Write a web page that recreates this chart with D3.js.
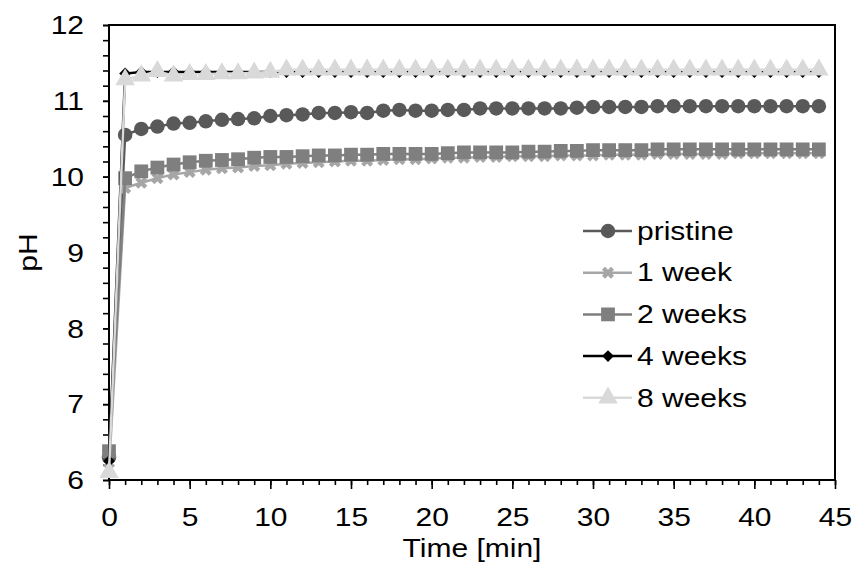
<!DOCTYPE html>
<html>
<head>
<meta charset="utf-8">
<script src="https://cdn.jsdelivr.net/npm/d3@7"></script>
<style>
  body { margin: 0; background: #fff; }
  svg { display: block; }
</style>
</head>
<body>
<div id="chart"></div>
<script>
// time in minutes, one reading per minute
var times = d3.range(0, 45);

var seriesNames = ["pristine", "1 week", "2 weeks", "4 weeks", "8 weeks"];

var pristine = [6.30, 10.55, 10.63, 10.66, 10.70, 10.71, 10.73, 10.75, 10.76, 10.77,
  10.80, 10.81, 10.82, 10.84, 10.84, 10.85, 10.84, 10.87, 10.88, 10.87,
  10.87, 10.88, 10.88, 10.90, 10.90, 10.90, 10.90, 10.90, 10.90, 10.91,
  10.92, 10.92, 10.92, 10.92, 10.93, 10.93, 10.93, 10.93, 10.93, 10.93,
  10.93, 10.93, 10.93, 10.93, 10.93];
var week1 = [6.15, 9.85, 9.92, 9.98, 10.03, 10.06, 10.09, 10.11, 10.12, 10.14,
  10.15, 10.17, 10.18, 10.19, 10.20, 10.21, 10.21, 10.22, 10.23, 10.23,
  10.24, 10.25, 10.25, 10.26, 10.26, 10.27, 10.27, 10.27, 10.28, 10.28,
  10.28, 10.29, 10.29, 10.29, 10.30, 10.30, 10.30, 10.30, 10.30, 10.31,
  10.31, 10.31, 10.31, 10.31, 10.31];
var weeks2 = [6.38, 9.98, 10.07, 10.12, 10.16, 10.19, 10.21, 10.22, 10.23, 10.25,
  10.26, 10.26, 10.27, 10.28, 10.28, 10.29, 10.29, 10.30, 10.30, 10.30,
  10.30, 10.31, 10.32, 10.32, 10.32, 10.32, 10.33, 10.33, 10.34, 10.34,
  10.35, 10.35, 10.35, 10.35, 10.36, 10.36, 10.36, 10.36, 10.36, 10.36,
  10.36, 10.36, 10.36, 10.36, 10.36];
var weeks4 = [6.25, 11.36, 11.38, 11.38, 11.38, 11.38, 11.38, 11.38, 11.38, 11.38,
  11.38, 11.38, 11.38, 11.38, 11.38, 11.38, 11.38, 11.38, 11.38, 11.38,
  11.38, 11.38, 11.38, 11.38, 11.38, 11.38, 11.38, 11.38, 11.38, 11.38,
  11.38, 11.38, 11.38, 11.38, 11.38, 11.38, 11.38, 11.38, 11.38, 11.38,
  11.38, 11.38, 11.38, 11.38, 11.38];
var weeks8 = [6.10, 11.28, 11.33, 11.39, 11.33, 11.35, 11.35, 11.36, 11.36, 11.37,
  11.38, 11.41, 11.41, 11.41, 11.41, 11.41, 11.41, 11.41, 11.41, 11.41,
  11.41, 11.41, 11.41, 11.41, 11.41, 11.41, 11.41, 11.41, 11.41, 11.41,
  11.41, 11.41, 11.41, 11.41, 11.41, 11.41, 11.41, 11.41, 11.41, 11.41,
  11.41, 11.41, 11.41, 11.41, 11.41];

var xTicks = [0, 5, 10, 15, 20, 25, 30, 35, 40, 45];
var yTicks = [6, 7, 8, 9, 10, 11, 12];

var colors = ["#595959", "#a6a6a6", "#7f7f7f", "#000000", "#d9d9d9"];

var series = [
  { name: seriesNames[0], values: pristine, color: colors[0], shape: "circle" },
  { name: seriesNames[1], values: week1, color: colors[1], shape: "x" },
  { name: seriesNames[2], values: weeks2, color: colors[2], shape: "square" },
  { name: seriesNames[3], values: weeks4, color: colors[3], shape: "diamond" },
  { name: seriesNames[4], values: weeks8, color: colors[4], shape: "triangle" }
];

var width = 857, height = 570;
var plotLeft = 109, plotRight = 835, plotTop = 25, plotBottom = 480;
var stretch = 1.2;   // glyphs in the original are wider than Arial
var fontSize = "25px";

var svg = d3.select("#chart").append("svg")
  .attr("width", width)
  .attr("height", height)
  .style("font-family", "'Liberation Sans', Arial, sans-serif");

var x = d3.scaleLinear().domain([0, 45]).range([plotLeft, plotRight]);
var y = d3.scaleLinear().domain([6, 12]).range([plotBottom, plotTop]);

function markerPath(shape) {
  if (shape == "circle") return d3.symbol(d3.symbolCircle, 165)();
  if (shape == "square") return d3.symbol(d3.symbolSquare, 190)();
  if (shape == "triangle") return d3.symbol(d3.symbolTriangle, 165)();
  if (shape == "diamond") return d3.symbol(d3.symbolSquare, 70)();
  return d3.symbol(d3.symbolCross, 90)();
}
function markerRotate(shape) {
  return (shape == "diamond" || shape == "x") ? " rotate(45)" : "";
}

// axes
var xMinor = svg.append("g")
  .attr("transform", "translate(0," + plotBottom + ")")
  .call(d3.axisBottom(x).tickValues(times.concat([45])).tickSize(5).tickFormat(""));
var xMajor = svg.append("g")
  .attr("transform", "translate(0," + plotBottom + ")")
  .call(d3.axisBottom(x).tickValues(xTicks).tickSize(9).tickFormat(d3.format("d")));

var yMinor = svg.append("g")
  .attr("transform", "translate(" + plotLeft + ",0)")
  .call(d3.axisLeft(y).tickValues(d3.range(0, 31).map(function(i) { return 6 + i * 0.2; }))
    .tickSize(6).tickFormat(""));
var yMajor = svg.append("g")
  .attr("transform", "translate(" + plotLeft + ",0)")
  .call(d3.axisLeft(y).tickValues(yTicks).tickSize(6).tickFormat(d3.format("d")));

svg.selectAll(".domain").remove();
svg.selectAll(".tick line").attr("stroke", "#000").attr("stroke-width", 1.6);

xMajor.selectAll("text")
  .attr("y", 0)
  .attr("dy", 0)
  .attr("transform", "translate(0,46) scale(" + stretch + ",1)")
  .style("font-size", fontSize)
  .attr("fill", "#000");
yMajor.selectAll("text")
  .attr("x", 0)
  .attr("dy", "0.35em")
  .attr("transform", "translate(-25,0) scale(" + stretch + ",1)")
  .style("font-size", fontSize)
  .attr("fill", "#000");

// frame
svg.append("path")
  .attr("d", "M" + plotLeft + "," + plotTop + "H" + plotRight + "V" + plotBottom + "H" + plotLeft + "Z")
  .attr("fill", "none")
  .attr("stroke", "#000")
  .attr("stroke-width", 2);

// series
var line = d3.line()
  .x(function(d, i) { return x(times[i]); })
  .y(function(d) { return y(d); });

series.forEach(function(s) {
  var g = svg.append("g");
  g.append("path")
    .attr("d", line(s.values))
    .attr("fill", "none")
    .attr("stroke", s.color)
    .attr("stroke-width", 2.5);
  g.selectAll("path.mk").data(s.values)
    .enter()
    .append("path")
    .attr("class", "mk")
    .attr("d", markerPath(s.shape))
    .attr("transform", function(d, i) {
      return "translate(" + x(times[i]) + "," + y(d) + ")" + markerRotate(s.shape);
    })
    .attr("fill", s.color);
});

// axis titles
svg.append("text")
  .attr("transform", "translate(" + ((plotLeft + plotRight) / 2) + ",557) scale(" + stretch + ",1)")
  .attr("text-anchor", "middle")
  .style("font-size", fontSize)
  .text("Time [min]");

svg.append("text")
  .attr("transform", "translate(37," + ((plotTop + plotBottom) / 2) + ") rotate(-90) scale(" + stretch + ",1)")
  .attr("text-anchor", "middle")
  .style("font-size", fontSize)
  .text("pH");

// legend
var legend = svg.append("g").attr("class", "legend");
series.forEach(function(s, i) {
  var ly = 231 + i * 41.7;
  var g = legend.append("g").attr("transform", "translate(583," + ly + ")");
  g.append("line")
    .attr("x1", 0).attr("x2", 49)
    .attr("y1", 0).attr("y2", 0)
    .attr("stroke", s.color)
    .attr("stroke-width", 2.5);
  g.append("path")
    .attr("d", markerPath(s.shape))
    .attr("transform", "translate(25,0)" + markerRotate(s.shape))
    .attr("fill", s.color);
  g.append("text")
    .attr("transform", "translate(54,0) scale(" + stretch + ",1)")
    .attr("dy", "0.35em")
    .style("font-size", fontSize)
    .text(s.name);
});
</script>
</body>
</html>
